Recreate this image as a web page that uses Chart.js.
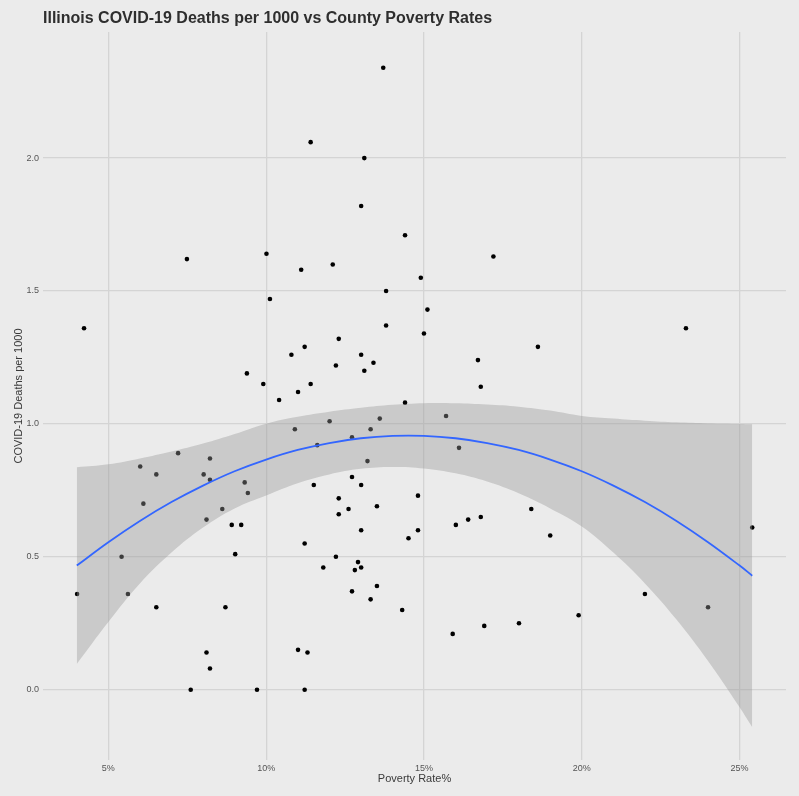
<!DOCTYPE html>
<html>
<head>
<meta charset="utf-8">
<title>Illinois COVID-19 Deaths per 1000 vs County Poverty Rates</title>
<script src="https://cdn.jsdelivr.net/npm/chart.js@4/dist/chart.umd.min.js"></script>
<style>
  html, body { margin: 0; padding: 0; background: #ebebeb; }
  canvas { display: block; background: #ebebeb; }
</style>
</head>
<body>
<canvas id="chart" width="799" height="796"></canvas>
<script>
// County poverty rate (%) and COVID-19 deaths per 1000 residents
const povertyRate = [
  13.71, 11.41, 13.11, 13.01, 14.40, 10.01, 17.20, 11.11, 12.11, 14.90,
  13.80, 10.12, 15.11, 13.80, 15.00, 12.30, 11.22, 10.80, 13.01, 16.71,
  13.40, 12.21, 13.11, 11.41, 9.91, 16.80, 11.01, 10.41, 9.39, 18.61,
  23.30, 4.23, 7.49, 14.40, 15.70, 12.01, 13.60, 10.91, 13.31, 12.72,
  11.62, 16.11, 13.21, 12.72, 13.01, 11.51, 12.30, 14.81, 12.61, 13.51,
  12.30, 16.01, 16.40, 16.80, 13.01, 14.81, 14.51, 11.22, 12.21, 11.81,
  12.91, 13.01, 12.81, 13.51, 12.72, 13.31, 14.31, 16.91, 15.91, 11.01,
  11.31, 9.71, 11.22, 7.21, 8.22, 6.01, 6.52, 8.02, 8.22, 6.11,
  9.32, 9.42, 8.61, 8.11, 8.91, 9.21, 5.42, 9.02, 4.01, 5.62,
  6.52, 8.71, 8.11, 8.22, 7.61, 18.40, 19.00, 25.40, 22.00, 24.00,
  18.01, 19.90
];
const deathsPer1000 = [
  2.34, 2.06, 2.00, 1.82, 1.71, 1.64, 1.63, 1.58, 1.60, 1.55,
  1.50, 1.47, 1.43, 1.37, 1.34, 1.32, 1.29, 1.26, 1.26, 1.24,
  1.23, 1.22, 1.20, 1.15, 1.15, 1.14, 1.12, 1.09, 1.19, 1.29,
  1.36, 1.36, 1.62, 1.08, 1.03, 1.01, 1.02, 0.98, 0.98, 0.95,
  0.92, 0.91, 0.86, 0.80, 0.77, 0.77, 0.72, 0.73, 0.68, 0.69,
  0.66, 0.62, 0.64, 0.65, 0.60, 0.60, 0.57, 0.55, 0.50, 0.46,
  0.48, 0.46, 0.45, 0.39, 0.37, 0.34, 0.30, 0.24, 0.21, 0.15,
  0.14, 0.00, 0.00, 0.89, 0.87, 0.84, 0.81, 0.81, 0.79, 0.70,
  0.78, 0.74, 0.68, 0.64, 0.62, 0.62, 0.50, 0.51, 0.36, 0.36,
  0.31, 0.31, 0.14, 0.08, 0.00, 0.68, 0.58, 0.61, 0.36, 0.31,
  0.25, 0.28
];

// Quadratic trend with its confidence band
const trendX     = [4.0, 5, 6, 7, 8, 9, 10, 11, 12, 13, 14, 15, 16, 17, 18, 19, 20, 21, 22, 23, 24, 25, 25.4];
const trendFit   = [0.467, 0.555, 0.635, 0.706, 0.768, 0.822, 0.866, 0.902, 0.928, 0.946, 0.955, 0.955, 0.946, 0.928, 0.902, 0.866, 0.822, 0.768, 0.706, 0.635, 0.555, 0.467, 0.429];
const bandUpper  = [0.837, 0.848, 0.870, 0.896, 0.926, 0.962, 1.001, 1.027, 1.046, 1.061, 1.072, 1.078, 1.078, 1.073, 1.065, 1.050, 1.030, 1.020, 1.012, 1.006, 1.002, 1.000, 0.999];
const bandLower  = [0.097, 0.255, 0.400, 0.516, 0.610, 0.682, 0.731, 0.777, 0.810, 0.831, 0.838, 0.832, 0.814, 0.783, 0.739, 0.682, 0.614, 0.516, 0.400, 0.264, 0.108, -0.066, -0.141];

const xTicks = [5, 10, 15, 20, 25];
const yTicks = [0, 0.5, 1.0, 1.5, 2.0];

const pts = (xs, ys) => xs.map((x, i) => ({ x: x, y: ys[i] }));

const gridColor = '#d4d4d4';
const tickFont = { family: 'Liberation Sans, Arial, sans-serif', size: 9 };
const titleFont = { family: 'Liberation Sans, Arial, sans-serif', size: 11 };

new Chart(document.getElementById('chart'), {
  type: 'scatter',
  data: {
    datasets: [
      {
        label: 'Counties',
        data: pts(povertyRate, deathsPer1000),
        pointRadius: 2.3,
        pointBackgroundColor: '#000000',
        pointBorderWidth: 0,
        order: 3
      },
      {
        type: 'line',
        label: 'Upper band',
        data: pts(trendX, bandUpper),
        borderWidth: 0,
        borderColor: 'rgba(0,0,0,0)',
        pointRadius: 0,
        tension: 0.4,
        fill: '+1',
        backgroundColor: 'rgba(153,153,153,0.4)',
        order: 2
      },
      {
        type: 'line',
        label: 'Lower band',
        data: pts(trendX, bandLower),
        borderWidth: 0,
        borderColor: 'rgba(0,0,0,0)',
        pointRadius: 0,
        tension: 0.4,
        fill: false,
        order: 2
      },
      {
        type: 'line',
        label: 'Trend',
        data: pts(trendX, trendFit),
        borderColor: '#3366ff',
        borderWidth: 1.8,
        pointRadius: 0,
        tension: 0.4,
        fill: false,
        order: 1
      }
    ]
  },
  options: {
    responsive: false,
    animation: false,
    devicePixelRatio: 1,
    layout: { padding: { left: 0, right: 13, top: 0, bottom: 0 } },
    plugins: {
      legend: { display: false },
      tooltip: { enabled: false },
      filler: { drawTime: 'beforeDatasetDraw' },
      title: {
        display: true,
        text: 'Illinois COVID-19 Deaths per 1000 vs County Poverty Rates',
        align: 'start',
        fullSize: false,
        color: '#2e2e2e',
        font: { family: 'Liberation Sans, Arial, sans-serif', size: 16, weight: 'bold', lineHeight: 1.2 },
        padding: { top: 9, bottom: 3.8 }
      }
    },
    scales: {
      x: {
        type: 'linear',
        min: 2.93,
        max: 26.47,
        afterBuildTicks: (scale) => { scale.ticks = xTicks.map(v => ({ value: v })); },
        afterFit: (scale) => { scale.height = 36; },
        grid: { color: gridColor, lineWidth: 1.3, drawTicks: false },
        border: { display: false },
        ticks: {
          padding: 3,
          color: '#555555',
          font: tickFont,
          maxRotation: 0,
          callback: (v) => v + '%'
        },
        title: {
          display: true,
          text: 'Poverty Rate%',
          color: '#3a3a3a',
          font: titleFont,
          padding: { top: 0, bottom: 10 }
        }
      },
      y: {
        type: 'linear',
        min: -0.2645,
        max: 2.4745,
        afterBuildTicks: (scale) => { scale.ticks = yTicks.map(v => ({ value: v })); },
        afterFit: (scale) => { scale.width = 43; },
        grid: { color: gridColor, lineWidth: 1.3, drawTicks: false },
        border: { display: false },
        ticks: {
          padding: 4,
          color: '#555555',
          font: tickFont,
          callback: (v) => Number(v).toFixed(1)
        },
        title: {
          display: true,
          text: 'COVID-19 Deaths per 1000',
          color: '#3a3a3a',
          font: titleFont,
          padding: { top: 12, bottom: 0 }
        }
      }
    }
  }
});
</script>
</body>
</html>
